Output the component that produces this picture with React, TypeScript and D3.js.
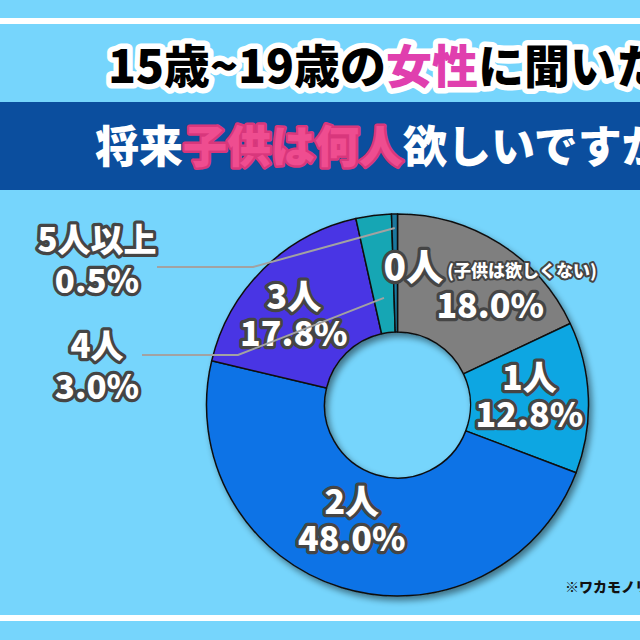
import { useEffect, useRef } from "react";
import * as d3 from "d3";

// values (they add up to 100.1 in the source)
const categories = ["0人", "1人", "2人", "3人", "4人", "5人以上"];
const values = [18.0, 12.8, 48.0, 17.8, 3.0, 0.5];
const colors = ["#7f7f7f", "#0ea6e2", "#0873e6", "#4a34e4", "#14a6b4", "#1a789e"];
const notes = ["(子供は欲しくない)", "", "", "", "", ""];
const outside = [4, 5];

const FONT = "'Noto Sans CJK JP Black', 'Noto Sans CJK JP', 'Noto Sans', sans-serif";

export default function App() {
  const ref = useRef<SVGSVGElement>(null);

  useEffect(() => {
    if (!ref.current) return;
    const W = 640, H = 640;
    const cx = 397.5, cy = 405, R = 191, r0 = 73;

    const svg = d3.select(ref.current).attr("width", W).attr("height", H);
    svg.selectAll("*").remove();

    const defs = svg.append("defs");
    defs.append("filter").attr("id", "shadow")
      .attr("x", "-20%").attr("y", "-20%").attr("width", "140%").attr("height", "140%")
      .append("feDropShadow")
      .attr("dx", 3).attr("dy", 4).attr("stdDeviation", 3)
      .attr("flood-color", "#000").attr("flood-opacity", 0.45);

    // background + white rules
    svg.append("rect").attr("width", W).attr("height", H).attr("fill", "#76d5fc");
    svg.append("rect").attr("x", 0).attr("y", 18).attr("width", W).attr("height", 6).attr("fill", "#fff");
    svg.append("rect").attr("x", 0).attr("y", 615).attr("width", W).attr("height", 6).attr("fill", "#fff");
    svg.append("rect").attr("x", 0).attr("y", 102).attr("width", W).attr("height", 88).attr("fill", "#0b4e9e");

    // title
    const t1 = svg.append("text").attr("x", 108).attr("y", 83)
      .attr("font-family", FONT).attr("font-size", 46).attr("font-weight", 900)
      .attr("fill", "#000").attr("stroke", "#fff").attr("stroke-width", 11)
      .attr("stroke-linejoin", "round").attr("paint-order", "stroke");
    t1.append("tspan").text("15歳~19歳の");
    t1.append("tspan").attr("fill", "#e03fae").text("女性");
    t1.append("tspan").text("に聞いた！");

    const t2 = svg.append("text").attr("x", 95).attr("y", 163)
      .attr("font-family", FONT).attr("font-size", 44).attr("font-weight", 900)
      .attr("fill", "#fff").attr("stroke-linejoin", "round").attr("paint-order", "stroke");
    t2.append("tspan").text("将来");
    t2.append("tspan").attr("fill", "#ef4d90").attr("stroke", "#d8377c").attr("stroke-width", 5).text("子供は何人");
    t2.append("tspan").text("欲しいですか？");

    // donut
    const pie = d3.pie<number>().sort(null).value(d => d)(values);
    const arc = d3.arc<d3.PieArcDatum<number>>().innerRadius(r0).outerRadius(R);
    const g = svg.append("g").attr("transform", `translate(${cx},${cy})`);
    g.append("g").attr("filter", "url(#shadow)")
      .selectAll("path").data(pie).enter().append("path")
      .attr("d", arc)
      .attr("fill", (_, i) => colors[i])
      .attr("stroke", "#111").attr("stroke-width", 1.5).attr("stroke-linejoin", "round");

    const label = (sel: d3.Selection<SVGTextElement, unknown, null, undefined>, size: number) =>
      sel.attr("font-family", FONT).attr("font-size", size).attr("font-weight", 900)
        .attr("text-anchor", "middle").attr("fill", "#fff")
        .attr("stroke", "#454545").attr("stroke-width", 6.5)
        .attr("stroke-linejoin", "round").attr("paint-order", "stroke");

    // in-ring labels: centroid at mid radius, with small nudges
    const mid = d3.arc<d3.PieArcDatum<number>>().innerRadius(132).outerRadius(132);
    const nudge: Record<number, [number, number]> = { 0: [22, -6], 2: [-7, -10], 3: [-11, 5], 1: [0, -3] };
    pie.forEach((p, i) => {
      if (outside.includes(i)) return;
      const [x, y] = mid.centroid(p);
      const [dx, dy] = nudge[i] ?? [0, 0];
      const lx = x + dx, ly = y + dy;
      const name = label(g.append("text"), 34).attr("x", lx).attr("y", ly - 7);
      name.append("tspan").attr("font-size", i === 0 ? 37 : 34).text(categories[i]);
      if (notes[i]) name.append("tspan").attr("font-size", 17).attr("dx", 4).attr("dy", -4).attr("stroke-width", 4).text(notes[i]);
      label(g.append("text"), 34).attr("x", lx).attr("y", ly + 30).text(`${values[i].toFixed(1)}%`);
    });

    // outside labels with leader lines
    const leaders: Record<number, { x: number; y: number; ly: number; lx0: number; elbow: number; rr: number }> = {
      5: { x: 97, y: 252, ly: 267, lx0: 157, elbow: 253, rr: 177 },
      4: { x: 97, y: 358, ly: 355, lx0: 142, elbow: 238, rr: 108 },
    };
    for (const i of outside) {
      const L = leaders[i];
      label(svg.append("text"), 33).attr("x", L.x).attr("y", L.y).text(categories[i]);
      label(svg.append("text"), 33).attr("x", L.x).attr("y", L.y + 41).text(`${values[i].toFixed(1)}%`);
    }
    for (const i of outside) {
      const L = leaders[i];
      const a = (pie[i].startAngle + pie[i].endAngle) / 2;
      const px = cx + L.rr * Math.sin(a), py = cy - L.rr * Math.cos(a);
      svg.append("path")
        .attr("d", d3.line()([[L.lx0, L.ly], [L.elbow, L.ly], [px, py]]))
        .attr("fill", "none").attr("stroke", "#a2a2a2").attr("stroke-width", 2);
    }

    // footnote
    svg.append("text").attr("x", 565).attr("y", 592)
      .attr("font-family", FONT).attr("font-size", 14).attr("font-weight", 900)
      .attr("fill", "#111").text("※ワカモノリサーチ調べ");
  }, []);

  return (
    <div style={{ position: "fixed", left: 0, top: 0, width: 640, height: 640, overflow: "hidden" }}>
      <svg ref={ref} style={{ display: "block" }} />
    </div>
  );
}
